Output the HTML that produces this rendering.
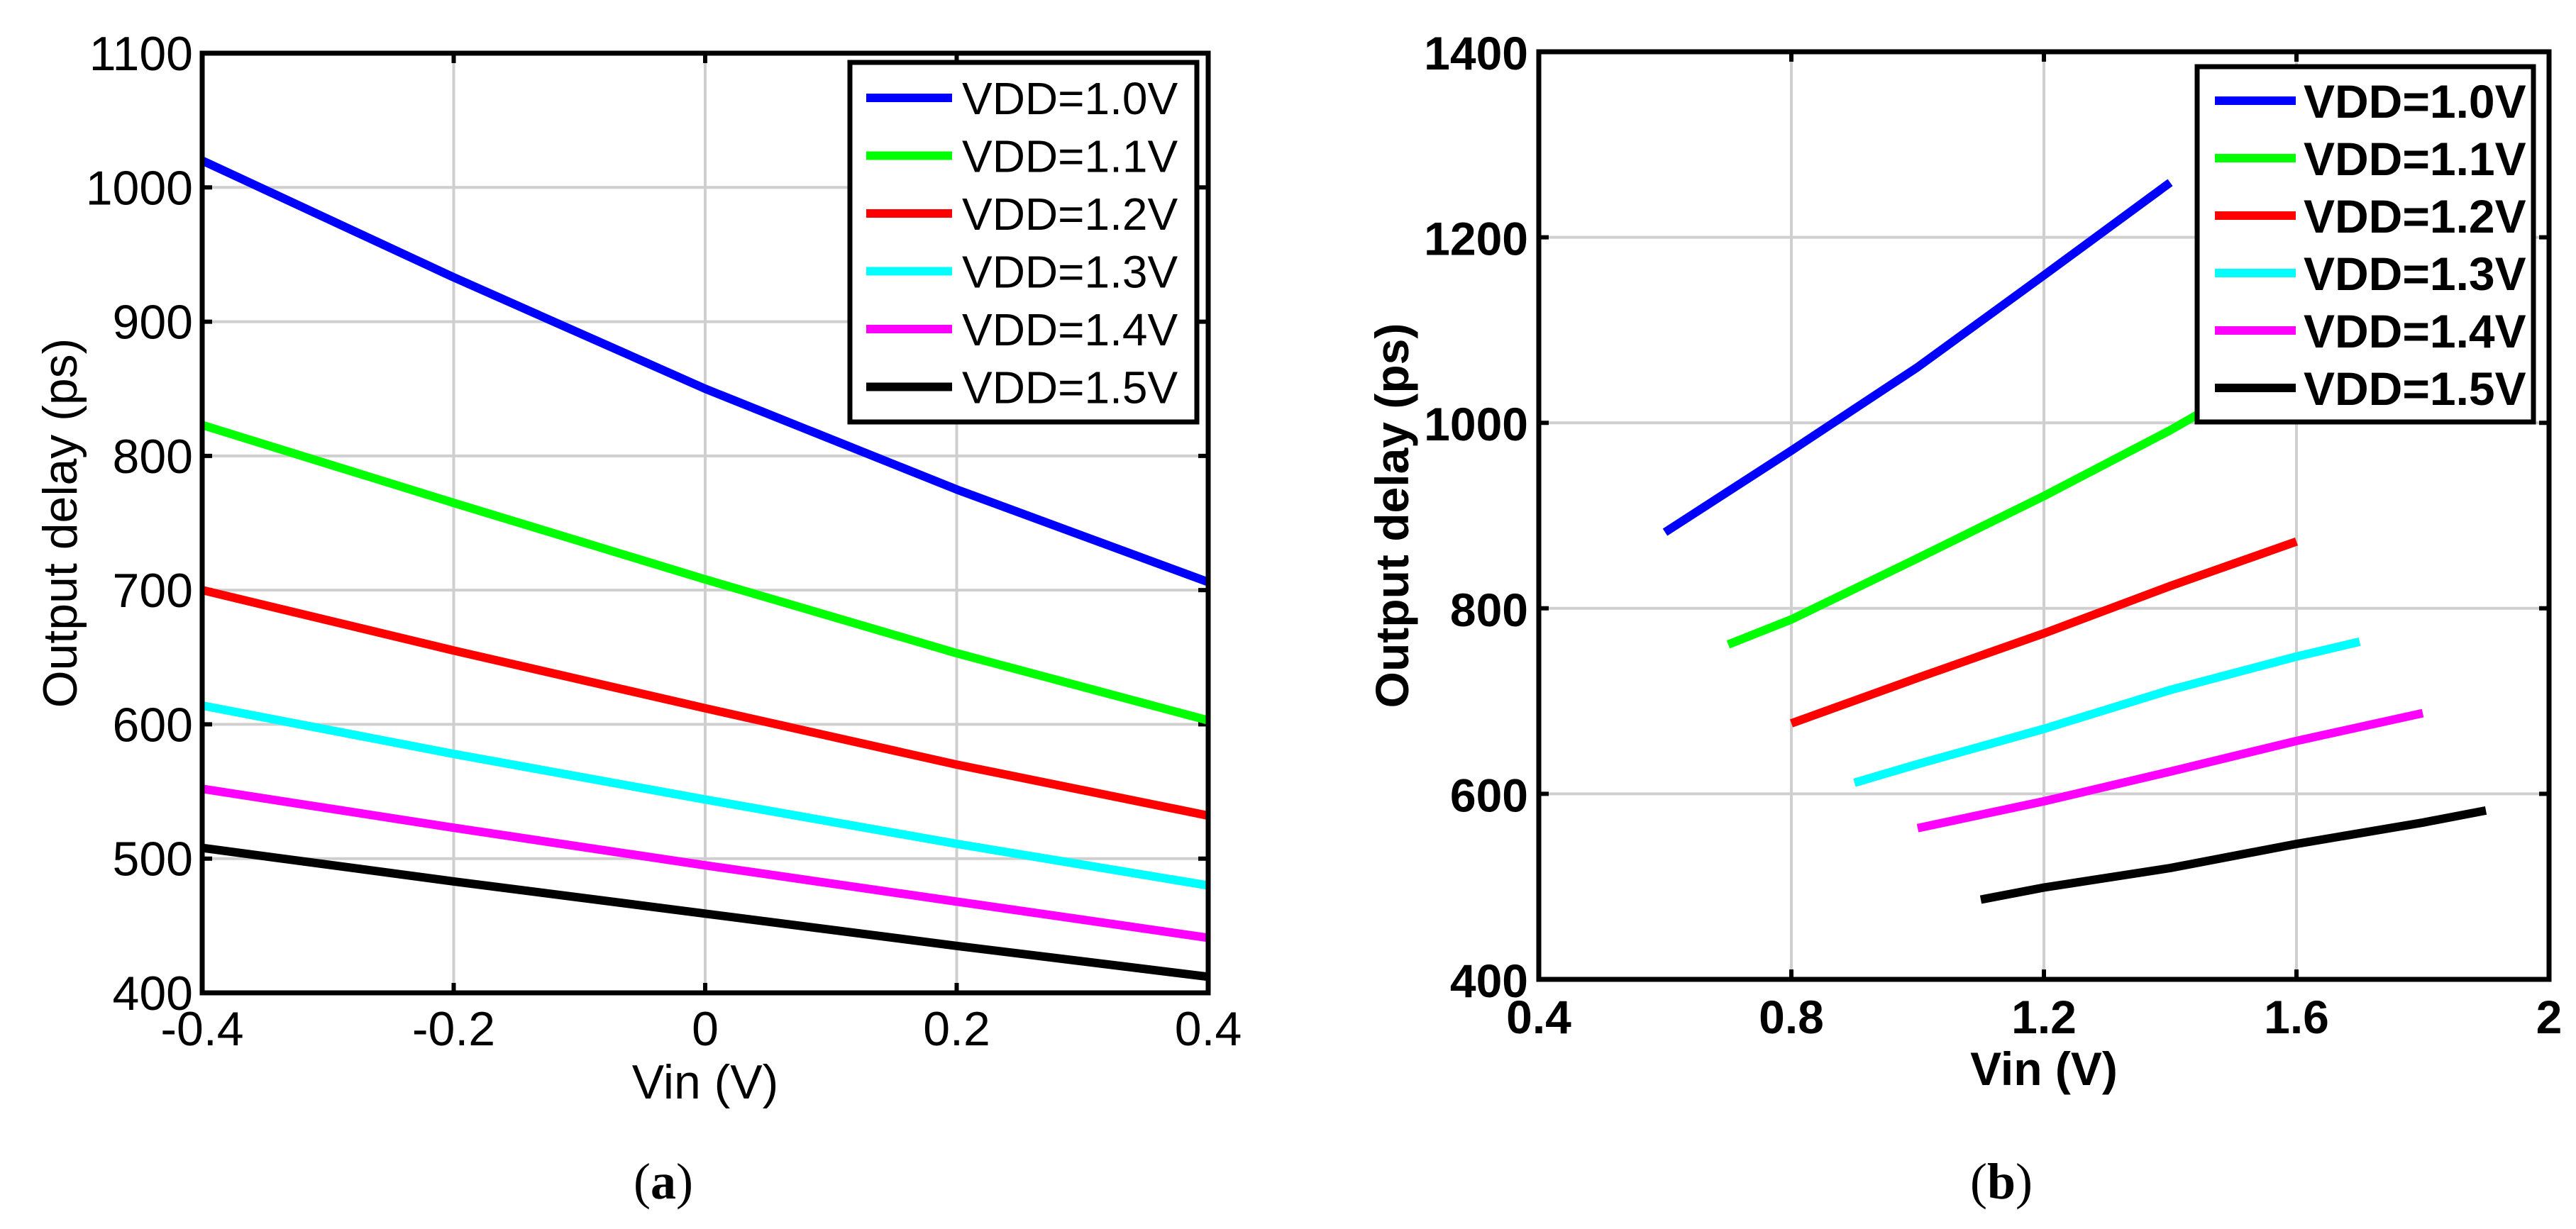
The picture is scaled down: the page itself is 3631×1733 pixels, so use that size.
<!DOCTYPE html>
<html><head><meta charset="utf-8"><style>
html,body{margin:0;padding:0;background:#fff;}
svg{display:block;}
</style></head><body>
<svg id="fig" width="3631" height="1733" viewBox="0 0 3631 1733" xmlns="http://www.w3.org/2000/svg"></svg>
<script>
// ---- Panel (a) data ----
const aX = [-0.4, -0.2, 0, 0.2, 0.4];
const aVdd10 = [1020, 933, 850, 775, 706];
const aVdd11 = [823, 765, 708, 653, 603];
const aVdd12 = [700, 655, 612, 570, 532];
const aVdd13 = [614, 578, 544, 511, 480];
const aVdd14 = [552, 523, 495, 468, 441];
const aVdd15 = [508, 483, 459, 435, 412];
const aXTicks = [-0.4, -0.2, 0, 0.2, 0.4];
const aXTickLabels = ["-0.4", "-0.2", "0", "0.2", "0.4"];
const aYTicks = [400, 500, 600, 700, 800, 900, 1000, 1100];
// ---- Panel (b) data ----
const bX10 = [0.6, 0.8, 1.0, 1.2, 1.4];
const bVdd10 = [882, 970, 1060, 1159, 1259];
const bX11 = [0.7, 0.8, 1.0, 1.2, 1.4, 1.6];
const bVdd11 = [761, 788, 854, 921, 992, 1070];
const bX12 = [0.8, 1.0, 1.2, 1.4, 1.6];
const bVdd12 = [676, 725, 773, 824, 872];
const bX13 = [0.9, 1.0, 1.2, 1.4, 1.6, 1.7];
const bVdd13 = [612, 632, 670, 712, 748, 764];
const bX14 = [1.0, 1.2, 1.4, 1.6, 1.8];
const bVdd14 = [563, 592, 624, 657, 687];
const bX15 = [1.1, 1.2, 1.4, 1.6, 1.8, 1.9];
const bVdd15 = [486, 499, 520, 546, 569, 582];
const bXTicks = [0.4, 0.8, 1.2, 1.6, 2.0];
const bXTickLabels = ["0.4", "0.8", "1.2", "1.6", "2"];
const bYTicks = [400, 600, 800, 1000, 1200, 1400];
const legendLabels = ["VDD=1.0V","VDD=1.1V","VDD=1.2V","VDD=1.3V","VDD=1.4V","VDD=1.5V"];
const seriesColors = ["#0000ff","#00ff00","#ff0000","#00ffff","#ff00ff","#000000"];

const NS = "http://www.w3.org/2000/svg";
const svg = document.getElementById("fig");
function mk(tag, attrs, parent, text){
  const e = document.createElementNS(NS, tag);
  for (const k in attrs) e.setAttribute(k, attrs[k]);
  if (text !== undefined) e.textContent = text;
  (parent || svg).appendChild(e);
  return e;
}

function panel(cfg){
  const g = mk("g", {});
  
  
  const sx = v => cfg.x0 + (v - cfg.xmin) / (cfg.xmax - cfg.xmin) * (cfg.x1 - cfg.x0);
  const sy = v => cfg.y1 - (v - cfg.ymin) / (cfg.ymax - cfg.ymin) * (cfg.y1 - cfg.y0);
  const fw = cfg.bold ? "bold" : "normal";
  cfg.xTicks.forEach((t, i) => {
    const x = sx(t);
    if (i > 0 && i < cfg.xTicks.length - 1) {
      const l = mk("line", {x1:x, x2:x, y1:cfg.y0, y2:cfg.y1, stroke:"#cfcfcf", "stroke-width":4}, g);
      
      
    }
    const tk = mk("path", {d:`M${x},${cfg.y1}v-14M${x},${cfg.y0}v14`, stroke:"#000", "stroke-width":6, fill:"none"}, g);
    
    
    const lb = mk("text", {x:x, y:cfg.xLabelY, "text-anchor":"middle", "font-size":cfg.fs, "font-weight":fw, "font-family":"Liberation Sans, sans-serif"}, g, cfg.xTickLabels[i]);
    
    
  });
  cfg.yTicks.forEach((t, i) => {
    const y = sy(t);
    if (i > 0 && i < cfg.yTicks.length - 1) {
      const l = mk("line", {x1:cfg.x0, x2:cfg.x1, y1:y, y2:y, stroke:"#cfcfcf", "stroke-width":4}, g);
      
      
    }
    const tk = mk("path", {d:`M${cfg.x0},${y}h14M${cfg.x1},${y}h-14`, stroke:"#000", "stroke-width":6, fill:"none"}, g);
    
    
    const lb = mk("text", {x:cfg.yLabelX, y:y + cfg.yLabelDy, "text-anchor":"end", "font-size":cfg.fs, "font-weight":fw, "font-family":"Liberation Sans, sans-serif"}, g, String(t));
    
    
  });
  cfg.series.forEach((s, i) => {
    const d = s.x.map((xv, j) => (j ? "L" : "M") + sx(xv).toFixed(1) + "," + sy(s.y[j]).toFixed(1)).join("");
    const p = mk("path", {d:d, stroke:seriesColors[i], "stroke-width":12, fill:"none", "stroke-linejoin":"round"}, g);
    
    
  });
  const fr = mk("rect", {x:cfg.x0, y:cfg.y0, width:cfg.x1 - cfg.x0, height:cfg.y1 - cfg.y0, fill:"none", stroke:"#000", "stroke-width":7}, g);
  
  
  const L = cfg.legend;
  const lg = mk("g", {}, g);
  
  
  mk("rect", {x:L.x, y:L.y, width:L.w, height:L.h, fill:"#fff", stroke:"#000", "stroke-width":7}, lg);
  legendLabels.forEach((lab, i) => {
    const cy = L.row0 + i * L.dy;
    const e = mk("g", {}, lg);
    
    
    mk("line", {x1:L.lx0, x2:L.lx1, y1:cy, y2:cy, stroke:seriesColors[i], "stroke-width":12}, e);
    mk("text", {x:L.tx, y:cy + L.fs * 0.36, "font-size":L.fs, "font-weight":fw, "font-family":"Liberation Sans, sans-serif"}, e, lab);
  });
  const xt = mk("text", {x:(cfg.x0 + cfg.x1) / 2, y:cfg.xTitleY, "text-anchor":"middle", "font-size":cfg.fs, "font-weight":fw, "font-family":"Liberation Sans, sans-serif"}, g, "Vin (V)");
  
  
  const ym = (cfg.y0 + cfg.y1) / 2;
  const yt = mk("text", {x:cfg.yTitleX, y:ym, "text-anchor":"middle", "font-size":cfg.fs, "font-weight":fw, "font-family":"Liberation Sans, sans-serif", transform:`rotate(-90 ${cfg.yTitleX} ${ym})`}, g, "Output delay (ps)");
  
  
  const cap = mk("text", {x:cfg.capX, y:1690, "text-anchor":"middle", "font-size":72, "font-family":"Liberation Serif, serif"}, g);
  
  
  mk("tspan", {}, cap, "(");
  mk("tspan", {"font-weight":"bold"}, cap, cfg.capLetter);
  mk("tspan", {}, cap, ")");
}

panel({
  name:"panel-a", x0:285, x1:1703, y0:75, y1:1400, xmin:-0.4, xmax:0.4, ymin:400, ymax:1100,
  xTicks:aXTicks, xTickLabels:aXTickLabels, yTicks:aYTicks, bold:false, fs:68,
  xLabelY:1474, yLabelX:272, yLabelDy:24, xTitleY:1549, yTitleX:108, capX:935, capLetter:"a",
  series:[{x:aX,y:aVdd10},{x:aX,y:aVdd11},{x:aX,y:aVdd12},{x:aX,y:aVdd13},{x:aX,y:aVdd14},{x:aX,y:aVdd15}],
  legend:{x:1198, y:88, w:489, h:507, row0:138, dy:81.5, lx0:1221, lx1:1342, tx:1356, fs:64}
});
panel({
  name:"panel-b", x0:2169, x1:3593, y0:73, y1:1381, xmin:0.4, xmax:2.0, ymin:400, ymax:1400,
  xTicks:bXTicks, xTickLabels:bXTickLabels, yTicks:bYTicks, bold:true, fs:66,
  xLabelY:1457, yLabelX:2154, yLabelDy:25, xTitleY:1530, yTitleX:1985, capX:2821, capLetter:"b",
  series:[{x:bX10,y:bVdd10},{x:bX11,y:bVdd11},{x:bX12,y:bVdd12},{x:bX13,y:bVdd13},{x:bX14,y:bVdd14},{x:bX15,y:bVdd15}],
  legend:{x:3097, y:94, w:474, h:501, row0:142, dy:81, lx0:3122, lx1:3236, tx:3247, fs:66}
});
</script>
</body></html>
